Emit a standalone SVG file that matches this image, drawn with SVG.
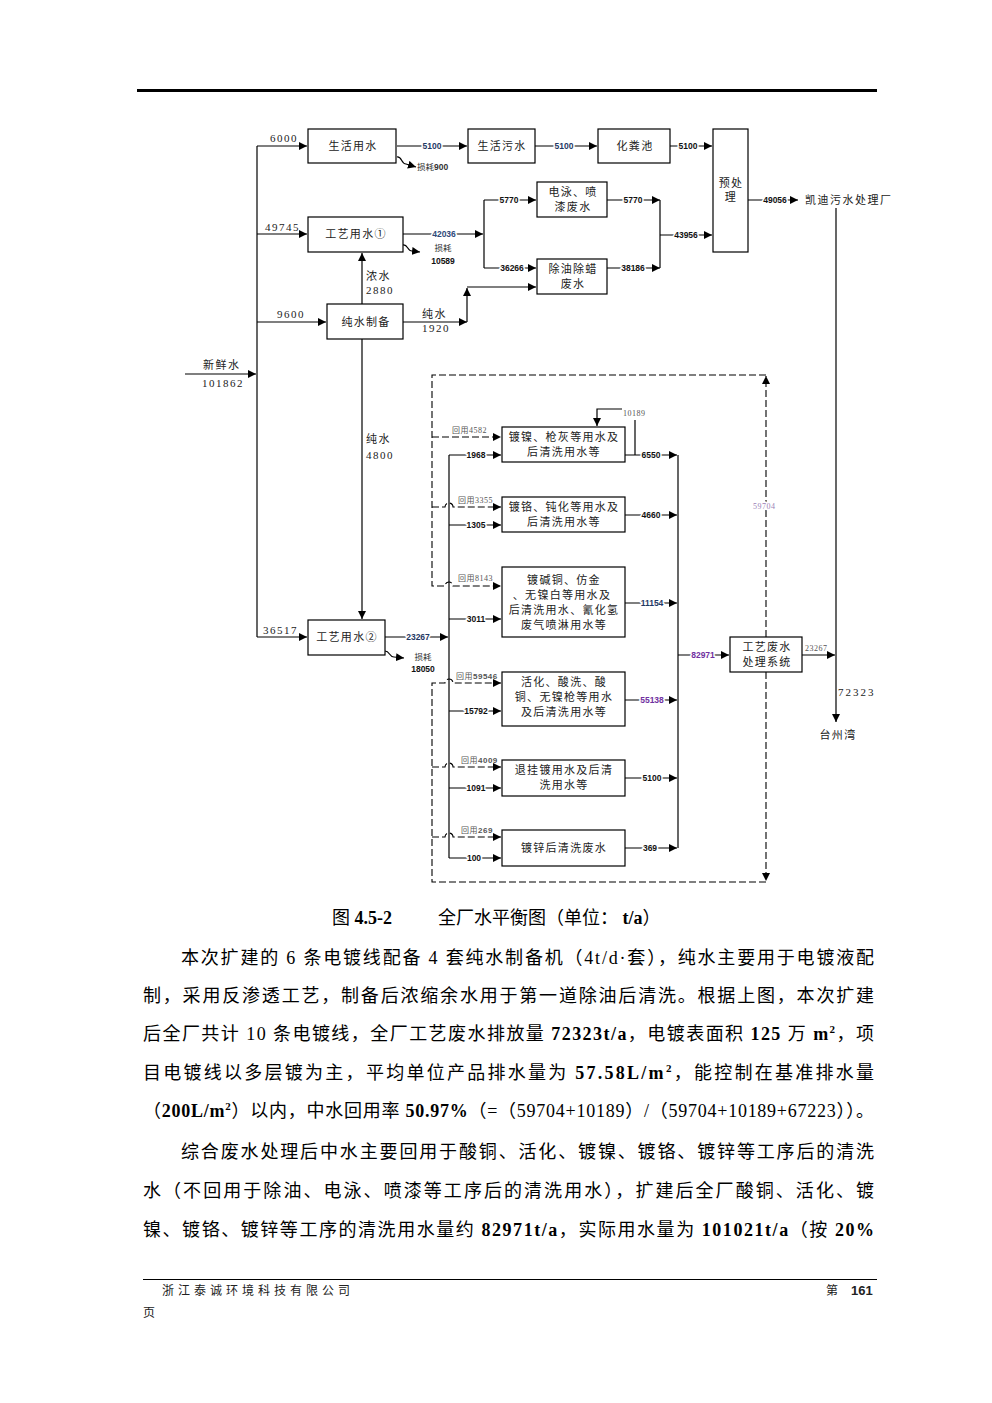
<svg xmlns="http://www.w3.org/2000/svg" width="992" height="1403" viewBox="0 0 992 1403">
<style>
.bx{fill:#fff;stroke:#000;stroke-width:1.2}
.ln{fill:none;stroke:#000;stroke-width:1.2}
.ds{fill:none;stroke:#000;stroke-width:1.1;stroke-dasharray:7,3}
.t{font-family:"Liberation Serif","Noto Sans CJK SC",serif;font-size:11px;letter-spacing:1.3px;fill:#222;text-anchor:middle}
.n{font-family:"Liberation Serif","Noto Sans CJK SC",serif;font-size:11px;letter-spacing:1.5px;fill:#222}
.b{font-family:"Liberation Sans",sans-serif;font-weight:bold;font-size:8.5px;fill:#111;text-anchor:middle;dominant-baseline:central;paint-order:stroke;stroke:#fff;stroke-width:3px;stroke-linejoin:round}
.r{font-family:"Liberation Serif","Noto Sans CJK SC",serif;font-size:8px;letter-spacing:0.5px;fill:#555}
.h{paint-order:stroke;stroke:#fff;stroke-width:3px;stroke-linejoin:round}
.s{font-family:"Noto Sans CJK SC",sans-serif;font-size:8.5px;fill:#333}
.body{font-family:"Liberation Serif","Noto Sans CJK SC",serif;font-size:18px;fill:#000}
.bd{font-weight:bold}
</style>
<defs>
<marker id="a" viewBox="0 0 10 10" refX="10" refY="5" markerWidth="8" markerHeight="8" markerUnits="userSpaceOnUse" orient="auto"><path d="M0,0 L10,5 L0,10 z" fill="#000"/></marker>
</defs>
<rect width="992" height="1403" fill="#fff"/>
<line x1="137" y1="90.5" x2="877" y2="90.5" stroke="#000" stroke-width="3"/>

<g id="connectors">
<path class="ln" d="M185,374 H256" marker-end="url(#a)"/>
<path class="ln" d="M257,146 V637"/>
<path class="ln" d="M257,146 H307" marker-end="url(#a)"/>
<path class="ln" d="M257,234 H307" marker-end="url(#a)"/>
<path class="ln" d="M257,322 H326" marker-end="url(#a)"/>
<path class="ln" d="M257,637 H307" marker-end="url(#a)"/>
<path class="ln" d="M362,304 V253" marker-end="url(#a)"/>
<path class="ln" d="M362,339 V619" marker-end="url(#a)"/>
<path class="ln" d="M403,322 H467" marker-end="url(#a)"/>
<path class="ln" d="M467,322 V288" marker-end="url(#a)"/>
<path class="ln" d="M467,287 H536" marker-end="url(#a)"/>
<path class="ln" d="M397,146 H467" marker-end="url(#a)"/>
<path class="ln" d="M397,157 c5,-1 4,7 9,7 L416,167" marker-end="url(#a)"/>
<path class="ln" d="M535,146 H597" marker-end="url(#a)"/>
<path class="ln" d="M670,146 H712" marker-end="url(#a)"/>
<path class="ln" d="M403,234 H483" marker-end="url(#a)"/>
<path class="ln" d="M403,245 c5,-1 4,6 9,6 L420,252" marker-end="url(#a)"/>
<path class="ln" d="M484,200 V268"/>
<path class="ln" d="M484,200 H536" marker-end="url(#a)"/>
<path class="ln" d="M484,268 H536" marker-end="url(#a)"/>
<path class="ln" d="M607,200 H660" marker-end="url(#a)"/>
<path class="ln" d="M607,268 H660" marker-end="url(#a)"/>
<path class="ln" d="M660,200 V268"/>
<path class="ln" d="M660,235 H712" marker-end="url(#a)"/>
<path class="ln" d="M748,200 H798" marker-end="url(#a)"/>
<path class="ln" d="M836,208 V722" marker-end="url(#a)"/>
<path class="ln" d="M802,655 H835" marker-end="url(#a)"/>
<path class="ln" d="M385,637 H448" marker-end="url(#a)"/>
<path class="ln" d="M385,651 c5,0 4,6 9,6 L404,658" marker-end="url(#a)"/>
<path class="ln" d="M449,455 V858"/>
<path class="ln" d="M449,455 H501" marker-end="url(#a)"/>
<path class="ln" d="M449,525 H501" marker-end="url(#a)"/>
<path class="ln" d="M449,619 H501" marker-end="url(#a)"/>
<path class="ln" d="M449,711 H501" marker-end="url(#a)"/>
<path class="ln" d="M449,788 H501" marker-end="url(#a)"/>
<path class="ln" d="M449,858 H501" marker-end="url(#a)"/>
<path class="ln" d="M625,455 H677" marker-end="url(#a)"/>
<path class="ln" d="M625,515 H677" marker-end="url(#a)"/>
<path class="ln" d="M625,603 H677" marker-end="url(#a)"/>
<path class="ln" d="M625,700 H677" marker-end="url(#a)"/>
<path class="ln" d="M625,778 H677" marker-end="url(#a)"/>
<path class="ln" d="M625,848 H677" marker-end="url(#a)"/>
<path class="ln" d="M678,455 V848"/>
<path class="ln" d="M678,655 H729" marker-end="url(#a)"/>
<path class="ln" d="M635,455 V420"/>
<path class="ln" d="M622,409 H597 V426" marker-end="url(#a)"/>
<path class="ds" d="M766,637 V376" marker-end="url(#a)"/>
<path class="ds" d="M766,375 H432 V586 H445 a4,4 0 0 1 8,0 H501" marker-end="url(#a)"/>
<path class="ds" d="M432,437 H501" marker-end="url(#a)"/>
<path class="ds" d="M432,507 H445 a4,4 0 0 1 8,0 H501" marker-end="url(#a)"/>
<path class="ds" d="M766,672 V881" marker-end="url(#a)"/>
<path class="ds" d="M766,882 H432 V683 H445 a4,4 0 0 1 8,0 H501" marker-end="url(#a)"/>
<path class="ds" d="M432,767 H445 a4,4 0 0 1 8,0 H501" marker-end="url(#a)"/>
<path class="ds" d="M432,837 H445 a4,4 0 0 1 8,0 H501" marker-end="url(#a)"/>
</g>

<g id="labels">
<text class="n" x="270" y="142">6000</text>
<text class="n" x="265" y="231">49745</text>
<text class="n" x="277" y="318">9600</text>
<text class="n" x="263" y="634">36517</text>
<text class="n" x="203" y="369">新鲜水</text>
<text class="n" x="202" y="387">101862</text>
<text class="n" x="366" y="280">浓水</text>
<text class="n" x="366" y="294">2880</text>
<text class="n" x="422" y="318">纯水</text>
<text class="n" x="422" y="332">1920</text>
<text class="n" x="366" y="443">纯水</text>
<text class="n" x="366" y="459">4800</text>
<text class="b" x="432" y="146" style="fill:#1f3864">5100</text>
<text class="s" x="417" y="170">损耗<tspan style="font-family:'Liberation Sans';font-weight:bold">900</tspan></text>
<text class="b" x="564" y="146" style="fill:#1f3864">5100</text>
<text class="b" x="688" y="146">5100</text>
<text class="b" x="444" y="234" style="fill:#2e4a7a">42036</text>
<text class="s" x="443" y="251" text-anchor="middle">损耗</text>
<text class="b" x="443" y="261">10589</text>
<text class="b" x="509" y="200">5770</text>
<text class="b" x="512" y="268">36266</text>
<text class="b" x="633" y="200">5770</text>
<text class="b" x="633" y="268">38186</text>
<text class="b" x="686" y="235">43956</text>
<text class="b" x="775" y="200">49056</text>
<text class="n" x="805" y="204">凯迪污水处理厂</text>
<text class="b" x="418" y="637" style="fill:#1f3864">23267</text>
<text class="s" x="423" y="660" text-anchor="middle">损耗</text>
<text class="b" x="423" y="669">18050</text>
<text class="r" x="623" y="416">10189</text>
<text class="r h" x="753" y="509" style="fill:#9b7fb6">59704</text>
<text class="r" x="452" y="433">回用4582</text>
<text class="r" x="458" y="503">回用3355</text>
<text class="r" x="458" y="581">回用8143</text>
<text class="r" x="456" y="679">回用<tspan style="font-family:'Liberation Sans';font-weight:bold">59546</tspan></text>
<text class="r" x="461" y="763">回用<tspan style="font-family:'Liberation Sans';font-weight:bold">4009</tspan></text>
<text class="r" x="461" y="833">回用<tspan style="font-family:'Liberation Sans';font-weight:bold">269</tspan></text>
<text class="b" x="476" y="455">1968</text>
<text class="b" x="476" y="525">1305</text>
<text class="b" x="476" y="619">3011</text>
<text class="b" x="476" y="711">15792</text>
<text class="b" x="476" y="788">1091</text>
<text class="b" x="474" y="858">100</text>
<text class="b" x="651" y="455">6550</text>
<text class="b" x="651" y="515">4660</text>
<text class="b" x="652" y="603" style="fill:#1f3864">11154</text>
<text class="b" x="652" y="700" style="fill:#7030a0">55138</text>
<text class="b" x="652" y="778">5100</text>
<text class="b" x="650" y="848">369</text>
<text class="b" x="703" y="655" style="fill:#7030a0">82971</text>
<text class="r" x="805" y="651">23267</text>
<text class="n" x="838" y="696" style="letter-spacing:2px">72323</text>
<text class="t" x="838" y="739">台州湾</text>
</g>

<g id="n-shenghuo"><rect class="bx" x="308" y="129" width="88" height="34"/><text class="t" x="353" y="150">生活用水</text></g>
<g id="n-wushui"><rect class="bx" x="468" y="129" width="67" height="34"/><text class="t" x="502" y="150">生活污水</text></g>
<g id="n-huafen"><rect class="bx" x="598" y="129" width="72" height="34"/><text class="t" x="635" y="150">化粪池</text></g>
<g id="n-yuchuli"><rect class="bx" x="713" y="129" width="35" height="123"/><text class="t" x="731" y="187">预处</text><text class="t" x="731" y="201">理</text></g>
<g id="n-gongyi1"><rect class="bx" x="308" y="217" width="95" height="35"/><text class="t" x="356" y="238">工艺用水①</text></g>
<g id="n-dianyong"><rect class="bx" x="537" y="182" width="70" height="35"/><text class="t" x="573" y="196">电泳、喷</text><text class="t" x="573" y="211">漆废水</text></g>
<g id="n-chuyou"><rect class="bx" x="537" y="259" width="70" height="35"/><text class="t" x="573" y="273">除油除蜡</text><text class="t" x="573" y="288">废水</text></g>
<g id="n-chunshui"><rect class="bx" x="327" y="304" width="76" height="35"/><text class="t" x="366" y="326">纯水制备</text></g>
<g id="n-gongyi2"><rect class="bx" x="308" y="620" width="77" height="35"/><text class="t" x="347" y="641">工艺用水②</text></g>
<g id="n-a"><rect class="bx" x="502" y="427" width="123" height="35"/><text class="t" x="564" y="441">镀镍、枪灰等用水及</text><text class="t" x="564" y="456">后清洗用水等</text></g>
<g id="n-b"><rect class="bx" x="502" y="497" width="123" height="35"/><text class="t" x="564" y="511">镀铬、钝化等用水及</text><text class="t" x="564" y="526">后清洗用水等</text></g>
<g id="n-c"><rect class="bx" x="502" y="567" width="123" height="70"/><text class="t" x="564" y="584">镀碱铜、仿金</text><text class="t" x="562" y="599">、无镍白等用水及</text><text class="t" x="564" y="614">后清洗用水、氰化氢</text><text class="t" x="564" y="629">废气喷淋用水等</text></g>
<g id="n-d"><rect class="bx" x="502" y="672" width="123" height="54"/><text class="t" x="564" y="686">活化、酸洗、酸</text><text class="t" x="564" y="701">铜、无镍枪等用水</text><text class="t" x="564" y="716">及后清洗用水等</text></g>
<g id="n-e"><rect class="bx" x="502" y="760" width="123" height="36"/><text class="t" x="564" y="774">退挂镀用水及后清</text><text class="t" x="564" y="789">洗用水等</text></g>
<g id="n-f"><rect class="bx" x="502" y="830" width="123" height="36"/><text class="t" x="564" y="852">镀锌后清洗废水</text></g>
<g id="n-treat"><rect class="bx" x="730" y="637" width="72" height="35"/><text class="t" x="767" y="651">工艺废水</text><text class="t" x="767" y="666">处理系统</text></g>

<g id="caption">
<text class="body" x="332" y="924">图 <tspan class="bd">4.5-2</tspan></text>
<text class="body" x="438" y="924">全厂水平衡图（单位：  <tspan class="bd">t/a</tspan>）</text>
</g>

<g id="body">
<text class="body" x="181" y="964" textLength="693" lengthAdjust="spacing">本次扩建的 6 条电镀线配备 4 套纯水制备机（4t/d·套），纯水主要用于电镀液配</text>
<text class="body" x="143" y="1002" textLength="731" lengthAdjust="spacing">制，采用反渗透工艺，制备后浓缩余水用于第一道除油后清洗。根据上图，本次扩建</text>
<text class="body" x="143" y="1040" textLength="731" lengthAdjust="spacing">后全厂共计 10 条电镀线，全厂工艺废水排放量 <tspan class="bd">72323t/a</tspan>，电镀表面积 <tspan class="bd">125</tspan> 万 <tspan class="bd">m</tspan><tspan class="bd" font-size="11" dy="-7">2</tspan><tspan dy="7">，项</tspan></text>
<text class="body" x="143" y="1079" textLength="731" lengthAdjust="spacing">目电镀线以多层镀为主，平均单位产品排水量为  <tspan class="bd">57.58L/m</tspan><tspan class="bd" font-size="11" dy="-7">2</tspan><tspan dy="7">，能控制在基准排水量</tspan></text>
<text class="body" x="143" y="1117" textLength="731" lengthAdjust="spacing">（<tspan class="bd">200L/m</tspan><tspan class="bd" font-size="11" dy="-7">2</tspan><tspan dy="7">）以内，中水回用率 </tspan><tspan class="bd">50.97%</tspan>（=（59704+10189）/（59704+10189+67223））。</text>
<text class="body" x="181" y="1158" textLength="693" lengthAdjust="spacing">综合废水处理后中水主要回用于酸铜、活化、镀镍、镀铬、镀锌等工序后的清洗</text>
<text class="body" x="143" y="1197" textLength="731" lengthAdjust="spacing">水（不回用于除油、电泳、喷漆等工序后的清洗用水），扩建后全厂酸铜、活化、镀</text>
<text class="body" x="143" y="1236" textLength="731" lengthAdjust="spacing">镍、镀铬、镀锌等工序的清洗用水量约  <tspan class="bd">82971t/a</tspan>，实际用水量为  <tspan class="bd">101021t/a</tspan>（按  <tspan class="bd">20%</tspan></text>
</g>

<g id="footer">
<line x1="143" y1="1279.5" x2="877" y2="1279.5" stroke="#000" stroke-width="1"/>
<text x="162" y="1295" style="font-family:'Noto Sans CJK SC',sans-serif;font-size:12px;letter-spacing:4px;fill:#222">浙江泰诚环境科技有限公司</text>
<text x="826" y="1295" style="font-family:'Noto Sans CJK SC',sans-serif;font-size:12px;fill:#222">第</text>
<text x="851" y="1295" style="font-family:'Liberation Sans',sans-serif;font-weight:bold;font-size:13px;fill:#222">161</text>
<text x="143" y="1317" style="font-family:'Noto Sans CJK SC',sans-serif;font-size:12px;fill:#222">页</text>
</g>
</svg>
